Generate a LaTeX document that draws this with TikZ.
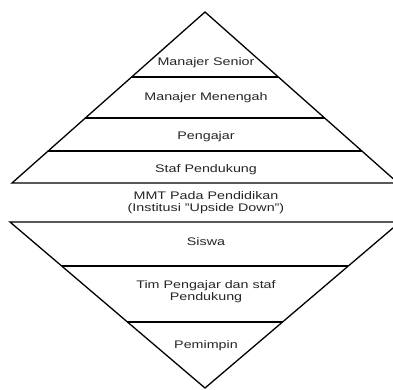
\documentclass[tikz,border=0pt]{standalone}
\usepackage{fontspec}
\setmainfont{Liberation Sans}[FakeStretch=1.3]
\usetikzlibrary{calc}
\begin{document}
\begin{tikzpicture}[x=1pt,y=-1pt,
  lbl/.style={font=\fontsize{11}{12}\selectfont, inner sep=0pt, align=center, text=black!85},
  edge/.style={draw=black, line width=1.3pt, line join=miter}]
\useasboundingbox (0,0) rectangle (393,389);
\fill[white] (0,0) rectangle (393,389);
\clip (0,0) rectangle (393,389);
% top pyramid
\coordinate (A) at (205,12);
\coordinate (L) at (12,183);
\coordinate (R) at (398,183);
\draw[edge] (L) -- (A) -- (R) -- cycle;
\coordinate (a1) at ($(A)!0.380!(L)$);
\coordinate (b1) at ($(A)!0.380!(R)$);
\coordinate (a2) at ($(A)!0.620!(L)$);
\coordinate (b2) at ($(A)!0.620!(R)$);
\coordinate (a3) at ($(A)!0.813!(L)$);
\coordinate (b3) at ($(A)!0.813!(R)$);
\draw[edge] (a1) -- (b1);
\draw[edge] (a2) -- (b2);
\draw[edge] (a3) -- (b3);
% bottom inverted pyramid
\coordinate (B) at (205,388);
\coordinate (L2) at (10,222);
\coordinate (R2) at (400,222);
\draw[edge] (L2) -- (B) -- (R2) -- cycle;
\coordinate (c1) at ($(B)!0.735!(L2)$);
\coordinate (d1) at ($(B)!0.735!(R2)$);
\coordinate (c2) at ($(B)!0.398!(L2)$);
\coordinate (d2) at ($(B)!0.398!(R2)$);
\draw[edge] (c1) -- (d1);
\draw[edge] (c2) -- (d2);
% labels
\node[lbl] (t1) at (206,63) {Manajer Senior};
\node[lbl] (t2) at (206,98) {Manajer Menengah};
\node[lbl] (t3) at (206,137) {Pengajar};
\node[lbl] (t4) at (206,170) {Staf Pendukung};
\node[lbl] (t5) at (206,203) {MMT Pada Pendidikan\\(Institusi "Upside Down")};
\node[lbl] (t6) at (206,242) {Siswa};
\node[lbl] (t7) at (206,292) {Tim Pengajar dan staf\\Pendukung};
\node[lbl] (t8) at (206,346) {Pemimpin};
\end{tikzpicture}
\end{document}
